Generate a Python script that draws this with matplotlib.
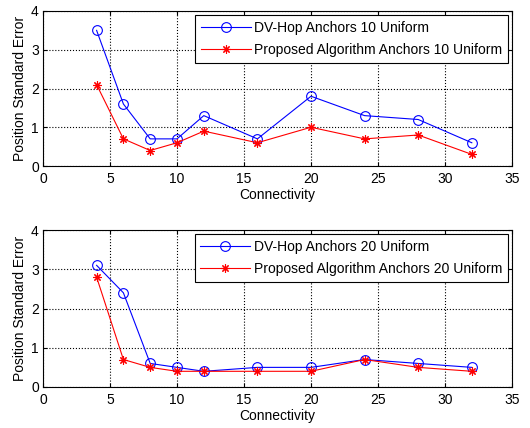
import matplotlib
matplotlib.use("Agg")
import matplotlib.pyplot as plt

plt.rcParams['font.family'] = ['Liberation Sans', 'DejaVu Sans']

connectivity = [4, 6, 8, 10, 12, 16, 20, 24, 28, 32]
dv_hop_10 = [3.5, 1.6, 0.7, 0.7, 1.3, 0.7, 1.8, 1.3, 1.2, 0.6]
proposed_10 = [2.1, 0.7, 0.4, 0.6, 0.9, 0.6, 1.0, 0.7, 0.8, 0.3]
dv_hop_20 = [3.1, 2.4, 0.6, 0.5, 0.4, 0.5, 0.5, 0.7, 0.6, 0.5]
proposed_20 = [2.8, 0.7, 0.5, 0.4, 0.4, 0.4, 0.4, 0.7, 0.5, 0.4]

panels = [
    (dv_hop_10, proposed_10, "DV-Hop Anchors 10 Uniform", "Proposed Algorithm Anchors 10 Uniform"),
    (dv_hop_20, proposed_20, "DV-Hop Anchors 20 Uniform", "Proposed Algorithm Anchors 20 Uniform"),
]

W, H = 530, 428
fig = plt.figure(figsize=(W / 100, H / 100), dpi=100)
axes_px = [(43, 11, 512, 166), (43, 230, 512, 387)]
FS = 10

for (dv, prop, l1, l2), (x0, y0, x1, y1) in zip(panels, axes_px):
    ax = fig.add_axes([x0 / W, 1 - y1 / H, (x1 - x0) / W, (y1 - y0) / H])
    ax.plot(connectivity, dv, color='#0000ff', lw=0.8, marker='o', ms=7,
            mfc='none', mec='#0000ff', mew=0.8, label=l1)
    ax.plot(connectivity, prop, color='#ff0000', lw=0.8, marker=(8, 2, 0), ms=6,
            mfc='#ff0000', mec='#ff0000', mew=0.8, label=l2)
    ax.set_xlim(0, 35)
    ax.set_ylim(0, 4)
    ax.set_xticks(range(0, 36, 5))
    ax.set_yticks(range(0, 5))
    ax.grid(True, linestyle=':', color='black', lw=0.8)
    ax.tick_params(direction='in', labelsize=FS, length=3, top=True, right=True)
    ax.tick_params(axis='x', pad=4)
    ax.tick_params(axis='y', pad=3)
    ax.set_xlabel("Connectivity", fontsize=FS, labelpad=2)
    ax.set_ylabel("Position Standard Error", fontsize=FS, labelpad=3)
    for s in ax.spines.values():
        s.set_linewidth(0.8)
    leg = ax.legend(loc='upper right', fontsize=FS, fancybox=False, framealpha=1,
                    edgecolor='black', borderaxespad=0.3, handlelength=3.6,
                    labelspacing=0.6, borderpad=0.4, handletextpad=0.25)
    leg.get_frame().set_linewidth(0.8)

fig.savefig("out.png", dpi=100)
